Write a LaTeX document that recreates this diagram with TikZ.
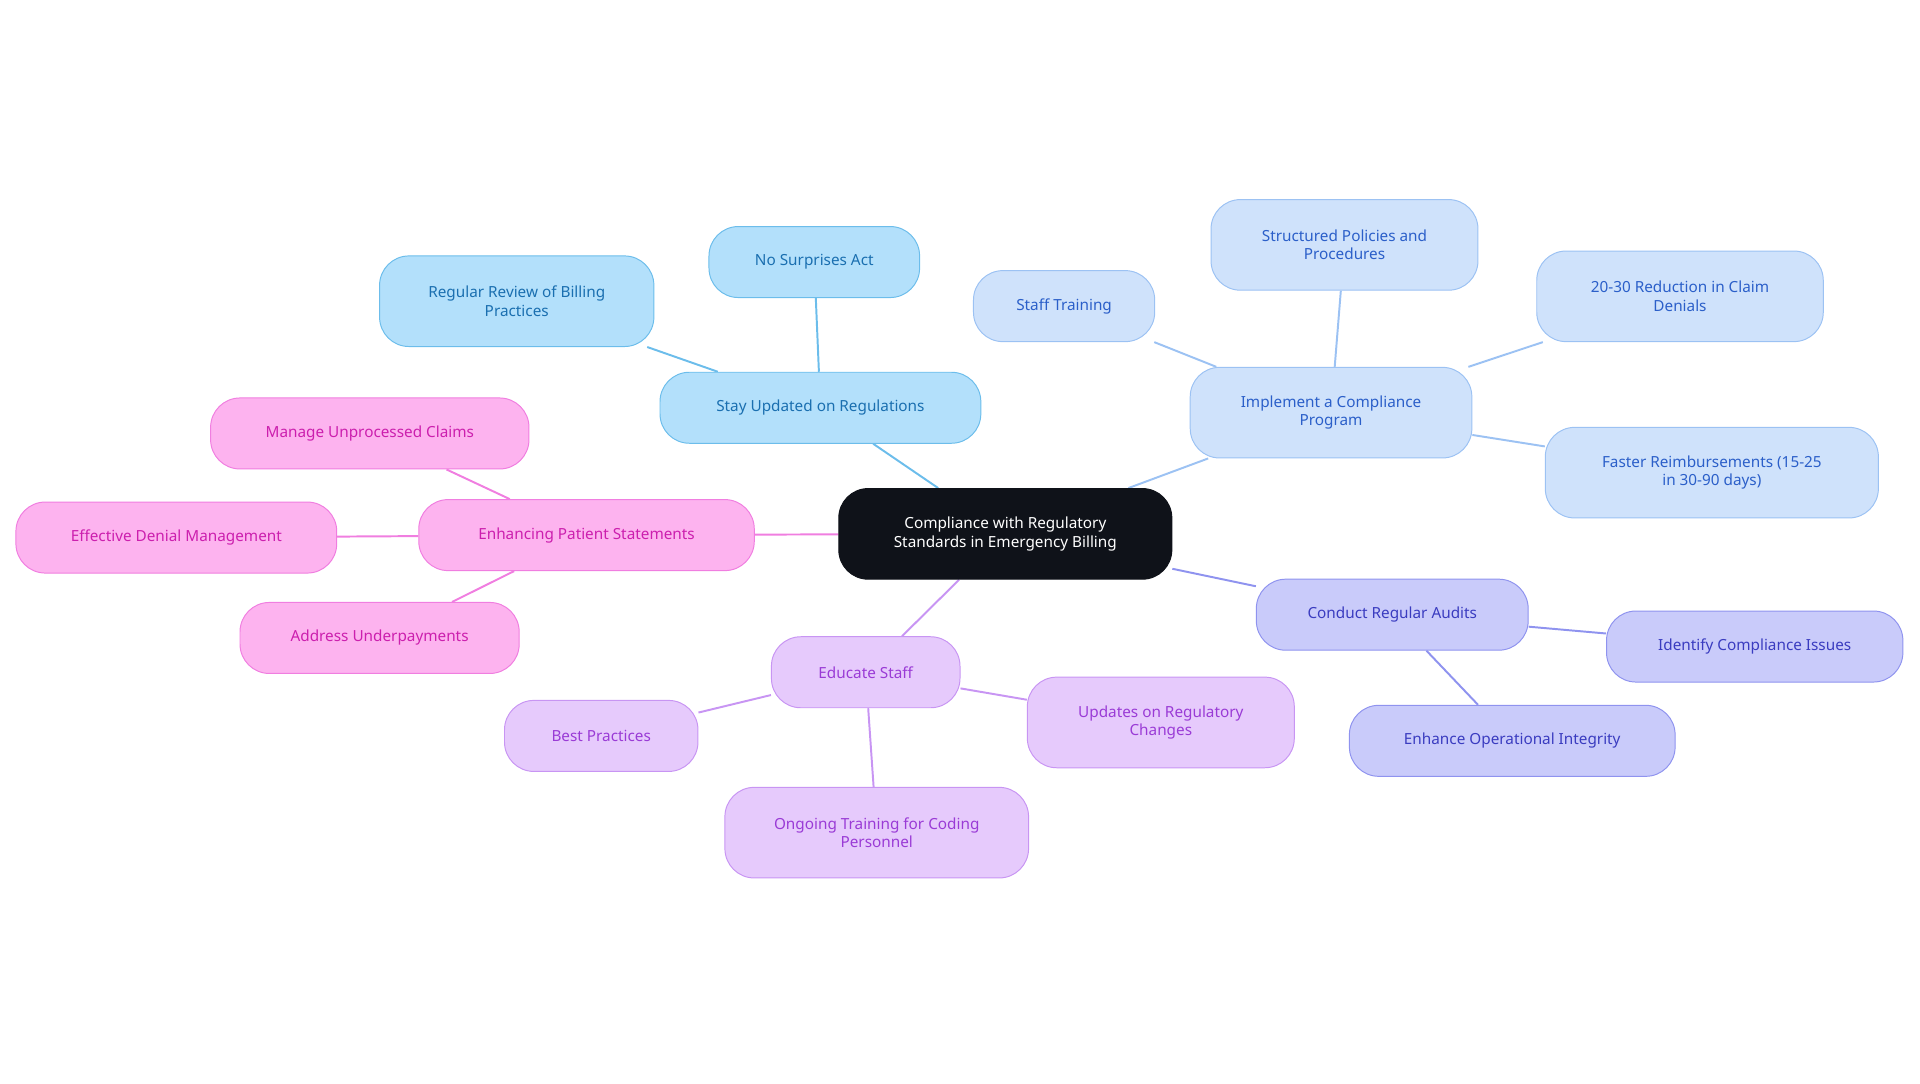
\documentclass[tikz,border=0pt]{standalone}
\usepackage{fontspec}
\setmainfont{Noto Sans}
\usetikzlibrary{backgrounds}
\definecolor{cK}{HTML}{0F1219}
\definecolor{bF}{HTML}{B3E0FB}\definecolor{bS}{HTML}{6CBDEB}\definecolor{bT}{HTML}{1A6FB0}
\definecolor{lF}{HTML}{CFE2FB}\definecolor{lS}{HTML}{9CC2F3}\definecolor{lT}{HTML}{2B5FC9}
\definecolor{iF}{HTML}{C9CBFA}\definecolor{iS}{HTML}{8F93EF}\definecolor{iT}{HTML}{3A3CC0}
\definecolor{vF}{HTML}{E6CAFC}\definecolor{vS}{HTML}{C895F3}\definecolor{vT}{HTML}{9A3BD6}
\definecolor{pF}{HTML}{FDB3EF}\definecolor{pS}{HTML}{F07EE0}\definecolor{pT}{HTML}{CC1FAE}
\tikzset{
 box/.style n args={5}{draw=#2,fill=#1,text=#3,line width=0.8pt,rounded corners=24pt,
  minimum width=#4,minimum height=#5,align=center,inner sep=0pt,
  font=\fontsize{12.5}{15}\selectfont},
 B/.style n args={2}{box={bF}{bS}{bT}{#1}{#2}},
 L/.style n args={2}{box={lF}{lS}{lT}{#1}{#2}},
 I/.style n args={2}{box={iF}{iS}{iT}{#1}{#2}},
 V/.style n args={2}{box={vF}{vS}{vT}{#1}{#2}},
 P/.style n args={2}{box={pF}{pS}{pT}{#1}{#2}},
 e/.style={line width=1.6pt,draw=#1}
}
\begin{document}
\begin{tikzpicture}[x=1pt,y=-1pt]
\useasboundingbox (0,0) rectangle (1568,885);
\node[box={cK}{cK}{white}{272pt}{74pt}] (c) at (821,436) {Compliance with Regulatory\\Standards in Emergency Billing};
\node[B={262pt}{58pt}] (s) at (670,333) {Stay Updated on Regulations};
\node[B={172pt}{58pt}] (s1) at (665,214) {No Surprises Act};
\node[B={224pt}{74pt}] (s2) at (422,246) {Regular Review of Billing\\Practices};
\node[L={230pt}{74pt}] (m) at (1087,337) {Implement a Compliance\\Program};
\node[L={148pt}{58pt}] (m1) at (869,250) {Staff Training};
\node[L={218pt}{74pt}] (m2) at (1098,200) {Structured Policies and\\Procedures};
\node[L={234pt}{74pt}] (m3) at (1372,242) {20-30 Reduction in Claim\\Denials};
\node[L={272pt}{74pt}] (m4) at (1398,386) {Faster Reimbursements (15-25\\in 30-90 days)};
\node[I={222pt}{58pt}] (a) at (1137,502) {Conduct Regular Audits};
\node[I={242pt}{58pt}] (a1) at (1433,528) {Identify Compliance Issues};
\node[I={266pt}{58pt}] (a2) at (1235,605) {Enhance Operational Integrity};
\node[V={154pt}{58pt}] (d) at (707,549) {Educate Staff};
\node[V={158pt}{58pt}] (d1) at (491,601) {Best Practices};
\node[V={218pt}{74pt}] (d2) at (948,590) {Updates on Regulatory\\Changes};
\node[V={248pt}{74pt}] (d3) at (716,680) {Ongoing Training for Coding\\Personnel};
\node[P={274pt}{58pt}] (p) at (479,437) {Enhancing Patient Statements};
\node[P={260pt}{58pt}] (p1) at (302,354) {Manage Unprocessed Claims};
\node[P={262pt}{58pt}] (p2) at (144,439) {Effective Denial Management};
\node[P={228pt}{58pt}] (p3) at (310,521) {Address Underpayments};
\begin{scope}[on background layer]
\draw[e=bS] (c)--(s) (s)--(s1) (s)--(s2);
\draw[e=lS] (c)--(m) (m)--(m1) (m)--(m2) (m)--(m3) (m)--(m4);
\draw[e=iS] (c)--(a) (a)--(a1) (a)--(a2);
\draw[e=vS] (c)--(d) (d)--(d1) (d)--(d2) (d)--(d3);
\draw[e=pS] (c)--(p) (p)--(p1) (p)--(p2) (p)--(p3);
\end{scope}
\end{tikzpicture}
\end{document}
